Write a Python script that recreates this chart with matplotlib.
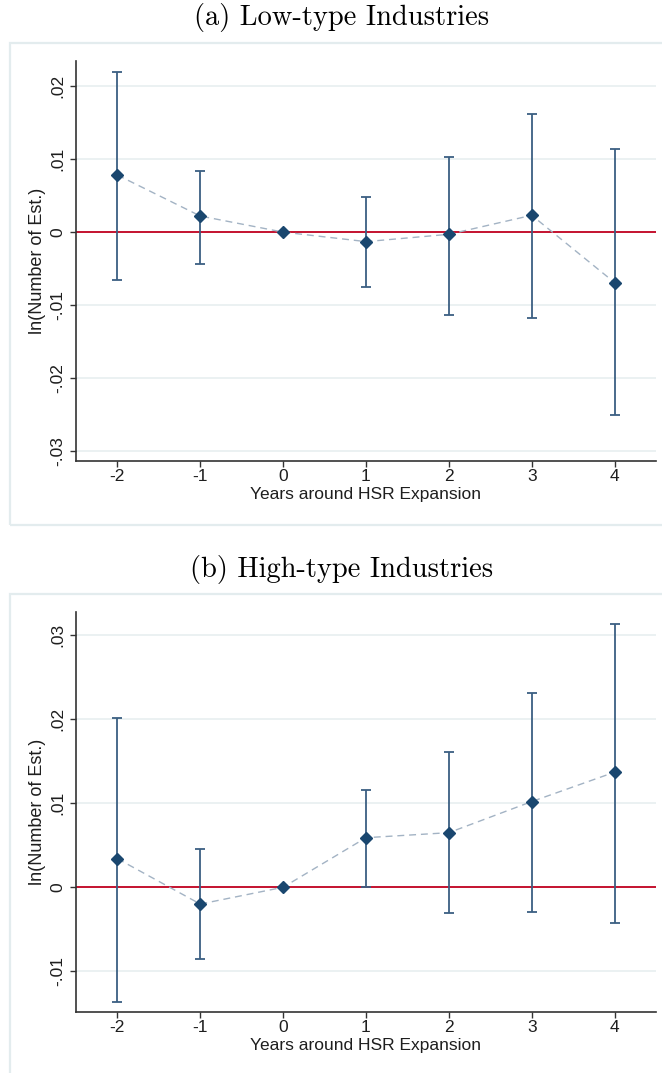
import matplotlib
matplotlib.use("Agg")
import matplotlib.pyplot as plt
from matplotlib.patches import Rectangle

# event-study estimates: years relative to HSR expansion
years = [-2, -1, 0, 1, 2, 3, 4]

low_coef = [0.0078, 0.0022, 0.0, -0.0013, -0.0003, 0.0023, -0.0069]
low_lo = [-0.0066, -0.0043, 0.0, -0.0075, -0.0113, -0.0118, -0.0250]
low_hi = [0.0219, 0.0084, 0.0, 0.0048, 0.0103, 0.0161, 0.0113]

high_coef = [0.0034, -0.0020, 0.0, 0.0059, 0.0065, 0.0102, 0.0137]
high_lo = [-0.0137, -0.0085, 0.0, 0.0000, -0.0031, -0.0029, -0.0042]
high_hi = [0.0202, 0.0045, 0.0, 0.0116, 0.0161, 0.0231, 0.0314]

low_yticks = [-0.03, -0.02, -0.01, 0.0, 0.01, 0.02]
low_ylabels = ["-.03", "-.02", "-.01", "0", ".01", ".02"]
high_yticks = [-0.01, 0.0, 0.01, 0.02, 0.03]
high_ylabels = ["-.01", "0", ".01", ".02", ".03"]

titles = ["(a) Low-type Industries", "(b) High-type Industries"]

W, H = 662, 1073
NAVY = "#1a476f"
CI_CLR = "#3b5f82"
DASH_CLR = "#a3b3c4"
RED = "#c4122f"
GRID = "#e9f0f1"
FRAME = "#e3ecee"
TXT = "#1e1e1e"

plt.rcParams['font.family'] = ['Liberation Sans', 'DejaVu Sans']

fig = plt.figure(figsize=(W / 100, H / 100), dpi=100)


def px_box(left, top, right, bottom):
    return [left / W, 1 - bottom / H, (right - left) / W, (bottom - top) / H]


def draw_panel(top_px, title, coef, lo, hi, yticks, ylabels, ylim):
    # light outer frame around the graph region
    frame = Rectangle((10 / W, 1 - (top_px + 482) / H), 664 / W, 482 / H,
                      transform=fig.transFigure, fill=False,
                      edgecolor=FRAME, linewidth=1.6, zorder=0)
    fig.patches.append(frame)
    fig.text(342 / W, 1 - (top_px - 25) / H, title, ha="center", va="center",
             family=['cmr10', 'DejaVu Serif'], fontsize=20.5, color="black")

    ax = fig.add_axes(px_box(76, top_px + 18, 656, top_px + 418))
    ax.set_xlim(-2.5, 4.5)
    ax.set_ylim(*ylim)

    for t in yticks:
        ax.axhline(t, color=GRID, linewidth=1.3, zorder=0)
    ax.axhline(0, color=RED, linewidth=1.4, zorder=1)

    ax.plot(years, coef, linestyle=(0, (5, 3.5)), color=DASH_CLR,
            linewidth=1.0, zorder=2)

    idx = [i for i in range(len(years)) if hi[i] > lo[i]]
    xs = [years[i] for i in idx]
    mids = [coef[i] for i in idx]
    err = [[coef[i] - lo[i] for i in idx], [hi[i] - coef[i] for i in idx]]
    ax.errorbar(xs, mids, yerr=err, fmt="none", ecolor=CI_CLR,
                elinewidth=1.3, capsize=3.5, capthick=1.3, zorder=3)
    ax.plot(years, coef, linestyle="none", marker="D", markersize=6,
            color=NAVY, zorder=4)

    for side in ["top", "right"]:
        ax.spines[side].set_visible(False)
    for side in ["left", "bottom"]:
        ax.spines[side].set_color("#333333")
        ax.spines[side].set_linewidth(1.2)

    ax.set_xticks(years)
    ax.set_xticklabels([str(y) for y in years])
    ax.set_yticks(yticks)
    ax.set_yticklabels(ylabels, rotation=90, va="center")
    ax.tick_params(axis="both", length=4, width=1.0, color="#333333",
                   labelsize=12.5, labelcolor=TXT, pad=2)
    ax.tick_params(axis="y", pad=4)
    ax.set_xlabel("Years around HSR Expansion", fontsize=12.5, color=TXT,
                  labelpad=2)
    ax.set_ylabel("ln(Number of Est.)", fontsize=13, color=TXT, labelpad=3)
    return ax


draw_panel(43, titles[0], low_coef, low_lo, low_hi,
           low_yticks, low_ylabels, (-0.0313, 0.0234))
draw_panel(594, titles[1], high_coef, high_lo, high_hi,
           high_yticks, high_ylabels, (-0.01485, 0.03277))

fig.savefig("out.png", dpi=100)
